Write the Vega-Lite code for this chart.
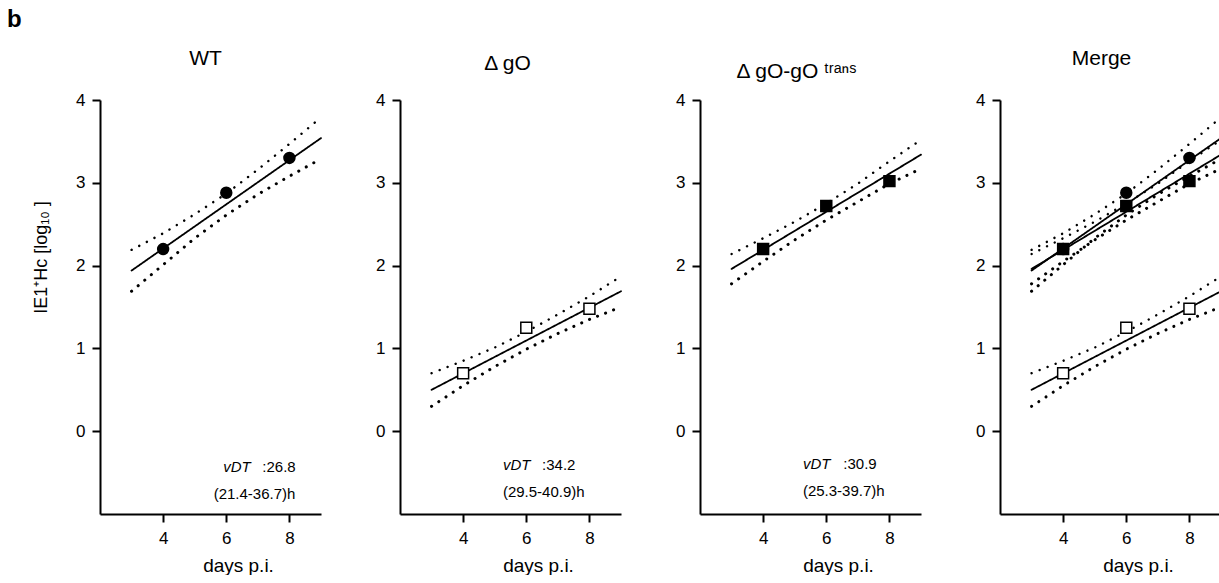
{
  "$schema": "https://vega.github.io/schema/vega-lite/v6.json",
  "padding": {"left": 7, "top": 8, "right": 0, "bottom": 0},
  "title": {"text": "b", "anchor": "start", "fontSize": 24, "fontWeight": "bold", "dx": -25, "offset": 16, "color": "black"},
  "spacing": 48,
  "datasets": {
    "points": [
      {"series": "WT", "day": 4, "value": 2.2},
      {"series": "WT", "day": 6, "value": 2.88},
      {"series": "WT", "day": 8, "value": 3.3},
      {"series": "ΔgO", "day": 4, "value": 0.7},
      {"series": "ΔgO", "day": 6, "value": 1.25},
      {"series": "ΔgO", "day": 8, "value": 1.48},
      {"series": "ΔgO-gO trans", "day": 4, "value": 2.2},
      {"series": "ΔgO-gO trans", "day": 6, "value": 2.72},
      {"series": "ΔgO-gO trans", "day": 8, "value": 3.02}
    ],
    "curves": [
      {"series": "WT", "band": "fit", "day": 3, "value": 1.94},
      {"series": "WT", "band": "fit", "day": 9, "value": 3.54},
      {"series": "WT", "band": "upper", "day": 3, "value": 2.19},
      {"series": "WT", "band": "upper", "day": 4, "value": 2.39},
      {"series": "WT", "band": "upper", "day": 5, "value": 2.62},
      {"series": "WT", "band": "upper", "day": 6, "value": 2.87},
      {"series": "WT", "band": "upper", "day": 7, "value": 3.16},
      {"series": "WT", "band": "upper", "day": 8, "value": 3.47},
      {"series": "WT", "band": "upper", "day": 9, "value": 3.79},
      {"series": "WT", "band": "lower", "day": 3, "value": 1.69},
      {"series": "WT", "band": "lower", "day": 4, "value": 2.01},
      {"series": "WT", "band": "lower", "day": 5, "value": 2.33},
      {"series": "WT", "band": "lower", "day": 6, "value": 2.61},
      {"series": "WT", "band": "lower", "day": 7, "value": 2.86},
      {"series": "WT", "band": "lower", "day": 8, "value": 3.08},
      {"series": "WT", "band": "lower", "day": 9, "value": 3.29},
      {"series": "ΔgO", "band": "fit", "day": 3, "value": 0.5},
      {"series": "ΔgO", "band": "fit", "day": 9, "value": 1.69},
      {"series": "ΔgO", "band": "upper", "day": 3, "value": 0.7},
      {"series": "ΔgO", "band": "upper", "day": 4, "value": 0.85},
      {"series": "ΔgO", "band": "upper", "day": 5, "value": 1.01},
      {"series": "ΔgO", "band": "upper", "day": 6, "value": 1.2},
      {"series": "ΔgO", "band": "upper", "day": 7, "value": 1.41},
      {"series": "ΔgO", "band": "upper", "day": 8, "value": 1.63},
      {"series": "ΔgO", "band": "upper", "day": 9, "value": 1.87},
      {"series": "ΔgO", "band": "lower", "day": 3, "value": 0.3},
      {"series": "ΔgO", "band": "lower", "day": 4, "value": 0.55},
      {"series": "ΔgO", "band": "lower", "day": 5, "value": 0.78},
      {"series": "ΔgO", "band": "lower", "day": 6, "value": 0.99},
      {"series": "ΔgO", "band": "lower", "day": 7, "value": 1.18},
      {"series": "ΔgO", "band": "lower", "day": 8, "value": 1.35},
      {"series": "ΔgO", "band": "lower", "day": 9, "value": 1.5},
      {"series": "ΔgO-gO trans", "band": "fit", "day": 3, "value": 1.96},
      {"series": "ΔgO-gO trans", "band": "fit", "day": 9, "value": 3.34},
      {"series": "ΔgO-gO trans", "band": "upper", "day": 3, "value": 2.14},
      {"series": "ΔgO-gO trans", "band": "upper", "day": 4, "value": 2.33},
      {"series": "ΔgO-gO trans", "band": "upper", "day": 5, "value": 2.53},
      {"series": "ΔgO-gO trans", "band": "upper", "day": 6, "value": 2.75},
      {"series": "ΔgO-gO trans", "band": "upper", "day": 7, "value": 2.99},
      {"series": "ΔgO-gO trans", "band": "upper", "day": 8, "value": 3.26},
      {"series": "ΔgO-gO trans", "band": "upper", "day": 9, "value": 3.52},
      {"series": "ΔgO-gO trans", "band": "lower", "day": 3, "value": 1.78},
      {"series": "ΔgO-gO trans", "band": "lower", "day": 4, "value": 2.05},
      {"series": "ΔgO-gO trans", "band": "lower", "day": 5, "value": 2.31},
      {"series": "ΔgO-gO trans", "band": "lower", "day": 6, "value": 2.55},
      {"series": "ΔgO-gO trans", "band": "lower", "day": 7, "value": 2.77},
      {"series": "ΔgO-gO trans", "band": "lower", "day": 8, "value": 2.99},
      {"series": "ΔgO-gO trans", "band": "lower", "day": 9, "value": 3.17}
    ],
    "notes": [
      {"series": "WT", "vdt": 26.8, "lo": 21.4, "hi": 36.7},
      {"series": "ΔgO", "vdt": 34.2, "lo": 29.5, "hi": 40.9},
      {"series": "ΔgO-gO trans", "vdt": 30.9, "lo": 25.3, "hi": 39.7}
    ]
  },
  "hconcat": [
    {
      "width": 221, "height": 414,
      "title": {"text": "WT", "offset": 22, "dx": -5},
      "layer": [
        {
          "data": {"name": "curves"},
          "transform": [{"filter": "datum.series === 'WT'"}],
          "mark": {"type": "line", "strokeCap": "round", "color": "black"},
          "encoding": {
            "x": {"field": "day", "type": "quantitative", "scale": {"domain": [2, 9], "nice": false, "zero": false}, "axis": {"values": [4, 6, 8], "format": "d"}, "title": "days p.i."},
            "y": {"field": "value", "type": "quantitative", "scale": {"domain": [-1, 4], "nice": false, "zero": false}, "axis": {"values": [0, 1, 2, 3, 4], "format": "d"}, "title": "IE1⁺Hc [log₁₀ ]"},
            "detail": [{"field": "series"}, {"field": "band"}],
            "strokeDash": {"field": "band", "type": "nominal", "scale": {"domain": ["fit", "upper", "lower"], "range": [[1, 0], [0.1, 8.5], [0.1, 8.5]]}, "legend": null},
            "strokeWidth": {"field": "band", "type": "nominal", "scale": {"domain": ["fit", "upper", "lower"], "range": [1.8, 3, 3]}, "legend": null}
          }
        },
        {
          "data": {"name": "points"},
          "transform": [{"filter": "datum.series === 'WT'"}],
          "mark": {"type": "point", "filled": true, "stroke": "black", "strokeWidth": 1.5, "size": 120, "opacity": 1},
          "encoding": {
            "x": {"field": "day", "type": "quantitative", "title": "days p.i."},
            "y": {"field": "value", "type": "quantitative", "title": "IE1⁺Hc [log₁₀ ]"},
            "shape": {"field": "series", "type": "nominal", "scale": {"domain": ["WT", "ΔgO", "ΔgO-gO trans"], "range": ["circle", "square", "square"]}, "legend": null},
            "fill": {"field": "series", "type": "nominal", "scale": {"domain": ["WT", "ΔgO", "ΔgO-gO trans"], "range": ["black", "white", "black"]}, "legend": null}
          }
        },
        {
          "data": {"name": "notes"},
          "transform": [{"filter": "datum.series === 'WT'"}],
          "mark": {"type": "text", "text": "vDT", "fontStyle": "italic", "align": "left", "baseline": "alphabetic", "fontSize": 15, "color": "black"},
          "encoding": {"x": {"datum": 5.9, "type": "quantitative"}, "y": {"datum": -0.49, "type": "quantitative"}}
        },
        {
          "data": {"name": "notes"},
          "transform": [{"filter": "datum.series === 'WT'"}, {"calculate": "':' + datum.vdt", "as": "label"}],
          "mark": {"type": "text", "align": "left", "baseline": "alphabetic", "fontSize": 15, "color": "black"},
          "encoding": {"x": {"datum": 7.14, "type": "quantitative"}, "y": {"datum": -0.49, "type": "quantitative"}, "text": {"field": "label"}}
        },
        {
          "data": {"name": "notes"},
          "transform": [{"filter": "datum.series === 'WT'"}, {"calculate": "'(' + datum.lo + '-' + datum.hi + ')h'", "as": "label"}],
          "mark": {"type": "text", "align": "left", "baseline": "alphabetic", "fontSize": 15, "color": "black"},
          "encoding": {"x": {"datum": 5.6, "type": "quantitative"}, "y": {"datum": -0.82, "type": "quantitative"}, "text": {"field": "label"}}
        }
      ]
    },
    {
      "width": 221, "height": 414,
      "title": {"text": "Δ gO", "offset": 17, "dx": -3},
      "layer": [
        {
          "data": {"name": "curves"},
          "transform": [{"filter": "datum.series === 'ΔgO'"}],
          "mark": {"type": "line", "strokeCap": "round", "color": "black"},
          "encoding": {
            "x": {"field": "day", "type": "quantitative", "scale": {"domain": [2, 9], "nice": false, "zero": false}, "axis": {"values": [4, 6, 8], "format": "d"}, "title": "days p.i."},
            "y": {"field": "value", "type": "quantitative", "scale": {"domain": [-1, 4], "nice": false, "zero": false}, "axis": {"values": [0, 1, 2, 3, 4], "format": "d"}, "title": null},
            "detail": [{"field": "series"}, {"field": "band"}],
            "strokeDash": {"field": "band", "type": "nominal", "scale": {"domain": ["fit", "upper", "lower"], "range": [[1, 0], [0.1, 8.5], [0.1, 8.5]]}, "legend": null},
            "strokeWidth": {"field": "band", "type": "nominal", "scale": {"domain": ["fit", "upper", "lower"], "range": [1.8, 3, 3]}, "legend": null}
          }
        },
        {
          "data": {"name": "points"},
          "transform": [{"filter": "datum.series === 'ΔgO'"}],
          "mark": {"type": "point", "filled": true, "stroke": "black", "strokeWidth": 1.5, "size": 120, "opacity": 1},
          "encoding": {
            "x": {"field": "day", "type": "quantitative", "title": "days p.i."},
            "y": {"field": "value", "type": "quantitative", "title": null},
            "shape": {"field": "series", "type": "nominal", "scale": {"domain": ["WT", "ΔgO", "ΔgO-gO trans"], "range": ["circle", "square", "square"]}, "legend": null},
            "fill": {"field": "series", "type": "nominal", "scale": {"domain": ["WT", "ΔgO", "ΔgO-gO trans"], "range": ["black", "white", "black"]}, "legend": null}
          }
        },
        {
          "data": {"name": "notes"},
          "transform": [{"filter": "datum.series === 'ΔgO'"}],
          "mark": {"type": "text", "text": "vDT", "fontStyle": "italic", "align": "left", "baseline": "alphabetic", "fontSize": 15, "color": "black"},
          "encoding": {"x": {"datum": 5.26, "type": "quantitative"}, "y": {"datum": -0.47, "type": "quantitative"}}
        },
        {
          "data": {"name": "notes"},
          "transform": [{"filter": "datum.series === 'ΔgO'"}, {"calculate": "':' + datum.vdt", "as": "label"}],
          "mark": {"type": "text", "align": "left", "baseline": "alphabetic", "fontSize": 15, "color": "black"},
          "encoding": {"x": {"datum": 6.5, "type": "quantitative"}, "y": {"datum": -0.47, "type": "quantitative"}, "text": {"field": "label"}}
        },
        {
          "data": {"name": "notes"},
          "transform": [{"filter": "datum.series === 'ΔgO'"}, {"calculate": "'(' + datum.lo + '-' + datum.hi + ')h'", "as": "label"}],
          "mark": {"type": "text", "align": "left", "baseline": "alphabetic", "fontSize": 15, "color": "black"},
          "encoding": {"x": {"datum": 5.26, "type": "quantitative"}, "y": {"datum": -0.8, "type": "quantitative"}, "text": {"field": "label"}}
        }
      ]
    },
    {
      "width": 221, "height": 414,
      "title": {"text": "Δ gO-gO ᵗʳᵃⁿˢ", "offset": 9, "dx": -14},
      "layer": [
        {
          "data": {"name": "curves"},
          "transform": [{"filter": "datum.series === 'ΔgO-gO trans'"}],
          "mark": {"type": "line", "strokeCap": "round", "color": "black"},
          "encoding": {
            "x": {"field": "day", "type": "quantitative", "scale": {"domain": [2, 9], "nice": false, "zero": false}, "axis": {"values": [4, 6, 8], "format": "d"}, "title": "days p.i."},
            "y": {"field": "value", "type": "quantitative", "scale": {"domain": [-1, 4], "nice": false, "zero": false}, "axis": {"values": [0, 1, 2, 3, 4], "format": "d"}, "title": null},
            "detail": [{"field": "series"}, {"field": "band"}],
            "strokeDash": {"field": "band", "type": "nominal", "scale": {"domain": ["fit", "upper", "lower"], "range": [[1, 0], [0.1, 8.5], [0.1, 8.5]]}, "legend": null},
            "strokeWidth": {"field": "band", "type": "nominal", "scale": {"domain": ["fit", "upper", "lower"], "range": [1.8, 3, 3]}, "legend": null}
          }
        },
        {
          "data": {"name": "points"},
          "transform": [{"filter": "datum.series === 'ΔgO-gO trans'"}],
          "mark": {"type": "point", "filled": true, "stroke": "black", "strokeWidth": 1.5, "size": 120, "opacity": 1},
          "encoding": {
            "x": {"field": "day", "type": "quantitative", "title": "days p.i."},
            "y": {"field": "value", "type": "quantitative", "title": null},
            "shape": {"field": "series", "type": "nominal", "scale": {"domain": ["WT", "ΔgO", "ΔgO-gO trans"], "range": ["circle", "square", "square"]}, "legend": null},
            "fill": {"field": "series", "type": "nominal", "scale": {"domain": ["WT", "ΔgO", "ΔgO-gO trans"], "range": ["black", "white", "black"]}, "legend": null}
          }
        },
        {
          "data": {"name": "notes"},
          "transform": [{"filter": "datum.series === 'ΔgO-gO trans'"}],
          "mark": {"type": "text", "text": "vDT", "fontStyle": "italic", "align": "left", "baseline": "alphabetic", "fontSize": 15, "color": "black"},
          "encoding": {"x": {"datum": 5.26, "type": "quantitative"}, "y": {"datum": -0.46, "type": "quantitative"}}
        },
        {
          "data": {"name": "notes"},
          "transform": [{"filter": "datum.series === 'ΔgO-gO trans'"}, {"calculate": "':' + datum.vdt", "as": "label"}],
          "mark": {"type": "text", "align": "left", "baseline": "alphabetic", "fontSize": 15, "color": "black"},
          "encoding": {"x": {"datum": 6.54, "type": "quantitative"}, "y": {"datum": -0.46, "type": "quantitative"}, "text": {"field": "label"}}
        },
        {
          "data": {"name": "notes"},
          "transform": [{"filter": "datum.series === 'ΔgO-gO trans'"}, {"calculate": "'(' + datum.lo + '-' + datum.hi + ')h'", "as": "label"}],
          "mark": {"type": "text", "align": "left", "baseline": "alphabetic", "fontSize": 15, "color": "black"},
          "encoding": {"x": {"datum": 5.26, "type": "quantitative"}, "y": {"datum": -0.78, "type": "quantitative"}, "text": {"field": "label"}}
        }
      ]
    },
    {
      "width": 221, "height": 414,
      "title": {"text": "Merge", "offset": 22, "dx": -9},
      "layer": [
        {
          "data": {"name": "curves"},
          "mark": {"type": "line", "strokeCap": "round", "color": "black"},
          "encoding": {
            "x": {"field": "day", "type": "quantitative", "scale": {"domain": [2, 9], "nice": false, "zero": false}, "axis": {"values": [4, 6, 8], "format": "d"}, "title": "days p.i."},
            "y": {"field": "value", "type": "quantitative", "scale": {"domain": [-1, 4], "nice": false, "zero": false}, "axis": {"values": [0, 1, 2, 3, 4], "format": "d"}, "title": null},
            "detail": [{"field": "series"}, {"field": "band"}],
            "strokeDash": {"field": "band", "type": "nominal", "scale": {"domain": ["fit", "upper", "lower"], "range": [[1, 0], [0.1, 8.5], [0.1, 8.5]]}, "legend": null},
            "strokeWidth": {"field": "band", "type": "nominal", "scale": {"domain": ["fit", "upper", "lower"], "range": [1.8, 3, 3]}, "legend": null}
          }
        },
        {
          "data": {"name": "points"},
          "mark": {"type": "point", "filled": true, "stroke": "black", "strokeWidth": 1.5, "size": 120, "opacity": 1},
          "encoding": {
            "x": {"field": "day", "type": "quantitative", "title": "days p.i."},
            "y": {"field": "value", "type": "quantitative", "title": null},
            "shape": {"field": "series", "type": "nominal", "scale": {"domain": ["WT", "ΔgO", "ΔgO-gO trans"], "range": ["circle", "square", "square"]}, "legend": null},
            "fill": {"field": "series", "type": "nominal", "scale": {"domain": ["WT", "ΔgO", "ΔgO-gO trans"], "range": ["black", "white", "black"]}, "legend": null}
          }
        }
      ]
    }
  ],
  "config": {
    "view": {"stroke": null},
    "font": "Liberation Sans",
    "title": {"fontSize": 21, "fontWeight": "normal", "color": "black", "font": "Liberation Sans"},
    "axis": {
      "grid": false, "domainColor": "black", "domainWidth": 2, "tickColor": "black", "tickWidth": 2, "tickSize": 8,
      "labelColor": "black", "labelFontSize": 17, "labelFont": "Liberation Sans",
      "titleColor": "black", "titleFontSize": 19, "titleFontWeight": "normal", "titleFont": "Liberation Sans"
    },
    "axisX": {"labelPadding": 8, "titleX": 138, "titlePadding": 10, "labelFlush": false},
    "axisY": {"labelPadding": 7, "titleX": -54, "titleY": 157, "titleBaseline": "alphabetic", "titleAngle": -90, "titleAlign": "center", "titleFontSize": 18}
  }
}
